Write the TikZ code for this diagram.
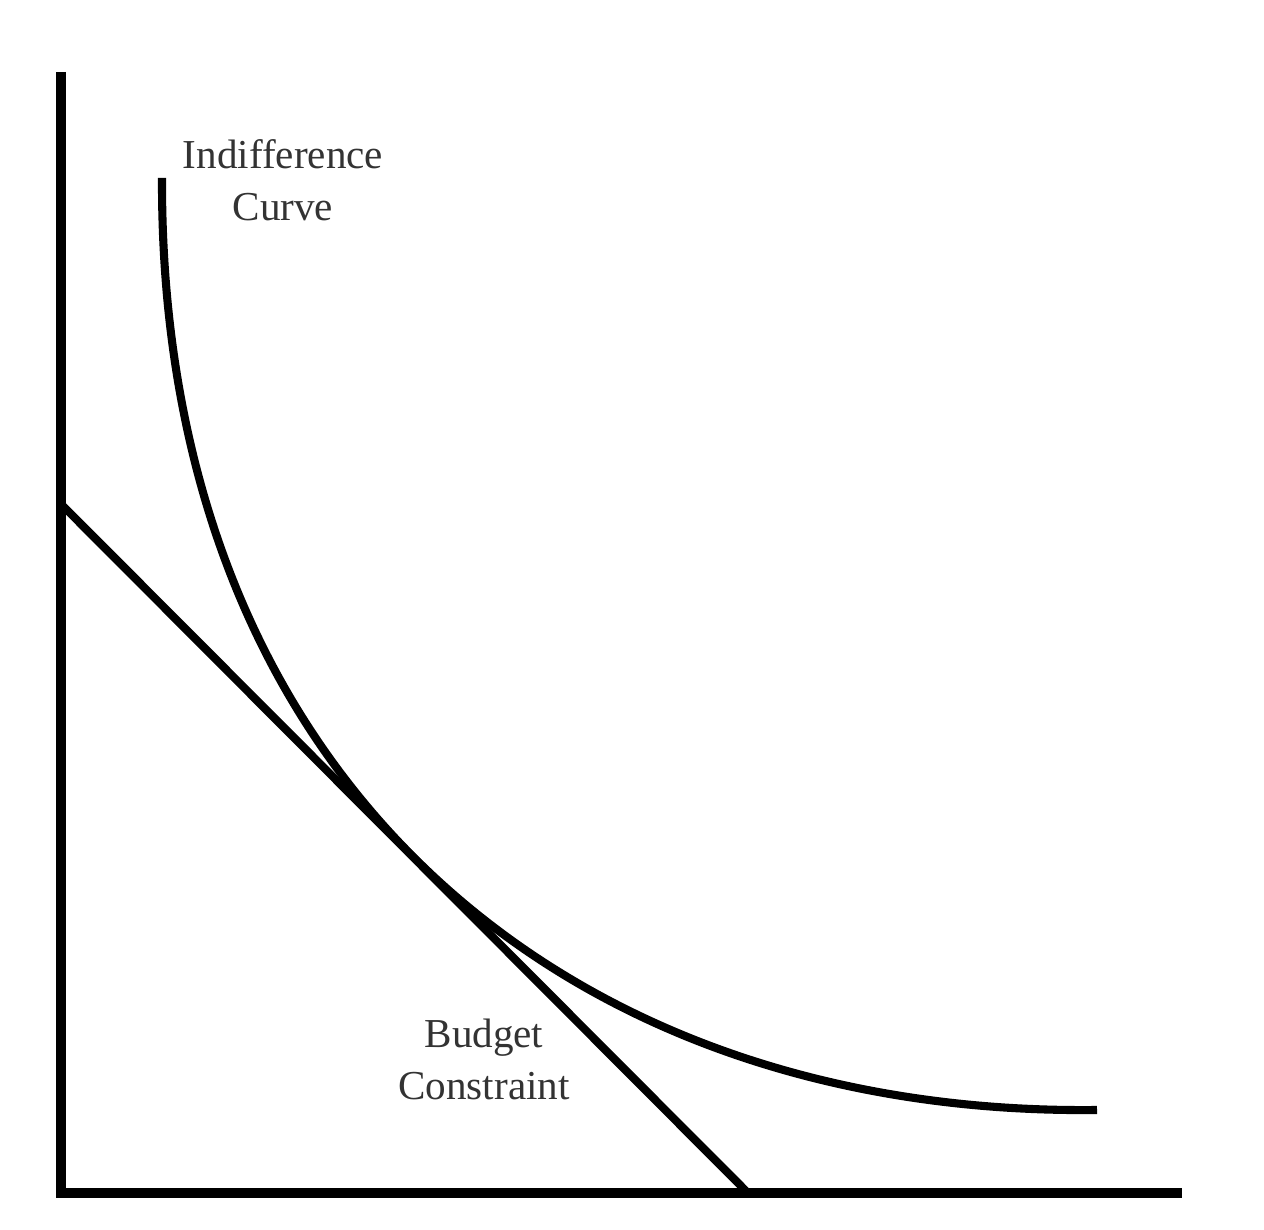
\documentclass[tikz,border=0pt]{standalone}
\usepackage{fontspec}
\setmainfont{Liberation Serif}

\begin{document}
\begin{tikzpicture}[
  axis/.style={line width=2.9pt,line join=miter},
  curve/.style={line width=2.3pt},
  lbl/.style={align=center,font=\fontsize{11.7}{14.8}\selectfont,
    text=black!80,inner sep=0pt}]
\useasboundingbox (0,0) rectangle (12.64,12.30);
\coordinate (o) at (0.61,0.37);
\coordinate (ytop) at (0.61,11.58);
\coordinate (xend) at (11.82,0.37);
\coordinate (bctop) at (0.62,7.25);
\coordinate (bcbot) at (7.48,0.37);
\coordinate (icstart) at (1.62,10.52);
\coordinate (icend) at (10.97,1.20);
% axes
\draw[axis] (ytop) -- (o) -- (xend);
% budget line and indifference curve
\draw[curve] (bctop) -- (bcbot);
\draw[curve] (icstart) .. controls (1.60,4.47) and (5.67,1.14) .. (icend);
\node[lbl] (iclabel) at (2.83,10.50) {Indifference\\Curve};
\node[lbl] (bclabel) at (4.84,1.71) {Budget\\Constraint};
\end{tikzpicture}
\end{document}
